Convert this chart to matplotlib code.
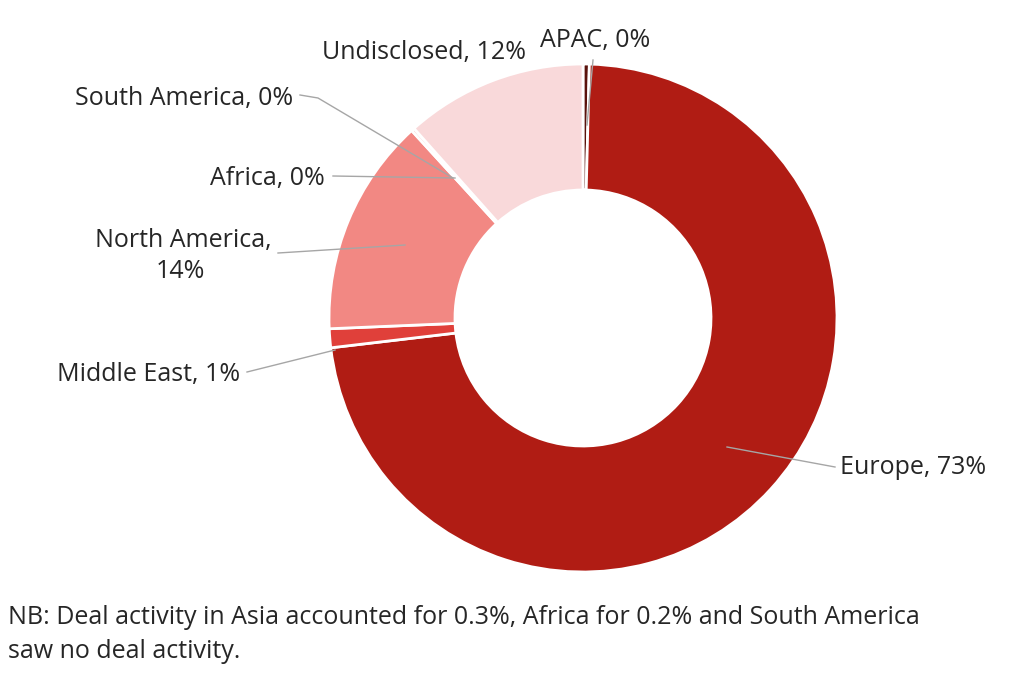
import matplotlib
matplotlib.use("Agg")
import matplotlib.pyplot as plt

regions = ["APAC", "Europe", "Middle East", "North America", "Africa", "South America", "Undisclosed"]
shares = [0.4, 72.8, 1.2, 13.9, 0.2, 0.0, 11.6]
label_pct = ["0%", "73%", "1%", "14%", "0%", "0%", "12%"]
colors = ["#5a120c", "#B01C14", "#E0403A", "#F28883", "#F4A9A5", "#F6C3C1", "#F9D9DA"]

W, H = 1024, 673
fig = plt.figure(figsize=(W/100, H/100), dpi=100)
ax = fig.add_axes([0, 0, 1, 1])
plt.rcParams['font.family'] = ['Open Sans', 'DejaVu Sans']

cx, cy, R = 583, H - 318, 254
ax.pie(shares, colors=colors, startangle=90, counterclock=False, center=(cx, cy), radius=R,
       wedgeprops=dict(width=R - 128, edgecolor="white", linewidth=2), frame=True)
ax.set_xlim(0, W); ax.set_ylim(0, H); ax.set_aspect("equal"); ax.axis("off")

fs = 18
def Y(y): return H - y
lc = "#a6a6a6"
items = [
    (f"{regions[0]}, {label_pct[0]}", 540, 40, "left", [(587, 125), (593, 60)]),
    (f"{regions[6]}, {label_pct[6]}", 322, 52, "left", None),
    (f"{regions[5]}, {label_pct[5]}", 75, 98, "left", [(300, 95), (318, 98), (453, 178)]),
    (f"{regions[4]}, {label_pct[4]}", 210, 178, "left", [(333, 176), (455, 178)]),
    (f"{regions[3]},", 95, 240, "left", [(278, 253), (405, 245)]),
    (label_pct[3], 180, 272, "center", None),
    (f"{regions[2]}, {label_pct[2]}", 57, 374, "left", [(247, 372), (335, 350)]),
    (f"{regions[1]}, {label_pct[1]}", 840, 467, "left", [(727, 447), (835, 467)]),
]
for t, x, y, ha, pts in items:
    ax.text(x, Y(y), t, ha=ha, va="center", fontsize=fs, color="#262626")
    if pts:
        ax.plot([p[0] for p in pts], [Y(p[1]) for p in pts], color=lc, lw=1)

ax.text(8, Y(618), "NB: Deal activity in Asia accounted for 0.3%, Africa for 0.2% and South America",
        ha="left", va="center", fontsize=fs, color="#262626")
ax.text(8, Y(651), "saw no deal activity.", ha="left", va="center", fontsize=fs, color="#262626")

fig.savefig("out.png", dpi=100, facecolor="white")
